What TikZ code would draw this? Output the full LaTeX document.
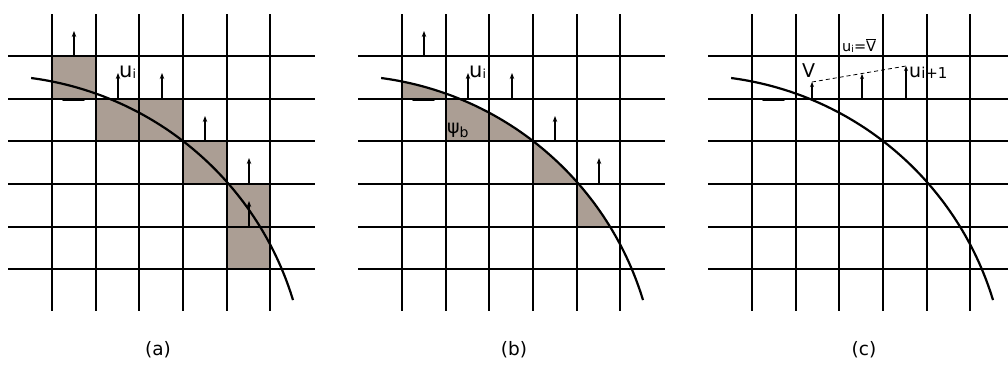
\documentclass[tikz,border=0pt]{standalone}
\usepackage{fontspec}
\setmainfont{DejaVu Sans}
\usetikzlibrary{arrows.meta}
\definecolor{cellfill}{RGB}{171,158,148}
\tikzset{
  gridline/.style={line width=2.8pt, black},
  curveline/.style={line width=2.2pt, black},
  vecarrow/.style={line width=1.4pt, -{Stealth[length=6pt,width=4.5pt]}},
  smallarrow/.style={line width=1.3pt, -{Stealth[length=5pt,width=4pt]}},
  cellshade/.style={fill=cellfill},
  lbl/.style={inner sep=0pt, anchor=base west},
  caption/.style={inner sep=0pt, anchor=center, font=\fontsize{18.5}{18.5}\selectfont},
  bigfont/.style={font=\fontsize{21}{21}\selectfont},
}
\newcommand\mysub[2]{\raisebox{-1pt}{\fontsize{#1}{#1}\selectfont #2}}
\newcommand\gridpanel{%
  \foreach \x in {52,96,139,183,227,270} \draw[gridline] (\x,14) -- (\x,311);
  \foreach \y in {56,99,141,184,227,269} \draw[gridline] (8,\y) -- (315,\y);
  \draw[line width=1.3pt, line cap=round] (63,100.4) -- (84,100.4);
  \draw[curveline] plot[domain=-82.5:-16.9, samples=80, smooth] ({-10.2+316.9*cos(\x)}, {392.2+316.9*sin(\x)});
}
\begin{document}
\begin{tikzpicture}[x=1pt, y=-1pt]
  \useasboundingbox (0,0) rectangle (1008,365);
  \fill[white] (0,0) rectangle (1008,365);

  % ---------- panel (a)
  \begin{scope}
    \fill[cellshade] (52,56) rectangle (96,99);
    \fill[cellshade] (96,99) rectangle (183,141);
    \fill[cellshade] (183,141) rectangle (227,184);
    \fill[cellshade] (227,184) rectangle (270,269);
    \gridpanel
    \coordinate (a1s) at (74,56);   \coordinate (a1e) at (74,31);
    \coordinate (a2s) at (118,99);  \coordinate (a2e) at (118,73);
    \coordinate (a3s) at (162,99);  \coordinate (a3e) at (162,73);
    \coordinate (a4s) at (205,141); \coordinate (a4e) at (205,116);
    \coordinate (a5s) at (249,184); \coordinate (a5e) at (249,158);
    \coordinate (a6s) at (249,227); \coordinate (a6e) at (249,201);
    \foreach \i in {1,...,6} \draw[vecarrow] (a\i s) -- (a\i e);
    \node[lbl, bigfont] (uia) at (119,77) {u\mysub{12.5}{i}};
    \node[caption] (capa) at (158,350) {(a)};
  \end{scope}

  % ---------- panel (b)
  \begin{scope}[xshift=350pt]
    \begin{scope}
      \clip (-10.2,392.2) -- plot[domain=-82.5:-16.9, samples=80, smooth] ({-10.2+316.9*cos(\x)}, {392.2+316.9*sin(\x)}) -- cycle;
      \fill[cellshade] (52,56) rectangle (96,99);
      \fill[cellshade] (96,99) rectangle (183,141);
      \fill[cellshade] (183,141) rectangle (227,184);
      \fill[cellshade] (227,184) rectangle (270,227);
    \end{scope}
    \gridpanel
    \coordinate (b1s) at (74,56);   \coordinate (b1e) at (74,31);
    \coordinate (b2s) at (118,99);  \coordinate (b2e) at (118,73);
    \coordinate (b3s) at (162,99);  \coordinate (b3e) at (162,73);
    \coordinate (b4s) at (205,141); \coordinate (b4e) at (205,116);
    \coordinate (b5s) at (249,184); \coordinate (b5e) at (249,158);
    \foreach \i in {1,...,5} \draw[vecarrow] (b\i s) -- (b\i e);
    \node[lbl, bigfont] (uib) at (119,77) {u\mysub{12.5}{i}};
    \node[lbl, font=\fontsize{19}{19}\selectfont] (psib) at (97,133) {ψ\raisebox{-4pt}{\fontsize{14}{14}\selectfont b}};
    \node[caption] (capb) at (164,350) {(b)};
  \end{scope}

  % ---------- panel (c)
  \begin{scope}[xshift=700pt]
    \gridpanel
    \coordinate (c1s) at (112,99); \coordinate (c1e) at (112,82);
    \coordinate (c2s) at (162,99); \coordinate (c2e) at (162,74);
    \coordinate (c3s) at (206,99); \coordinate (c3e) at (206,66);
    \foreach \i in {1,2,3} \draw[smallarrow] (c\i s) -- (c\i e);
    \draw[line width=0.8pt, dash pattern=on 4pt off 3pt] (c1e) -- (c3e);
    \node[lbl, font=\fontsize{19}{19}\selectfont] (vc) at (102,77) {V};
    \node[lbl, font=\fontsize{19}{19}\selectfont] (uic) at (209,77) {u\mysub{15}{i+1}};
    \node[lbl, font=\fontsize{14.5}{14.5}\selectfont] (ueq) at (142,51) {u\mysub{9.5}{i}=$\overline{\mbox{V}}$};
    \node[caption] (capc) at (164,350) {(c)};
  \end{scope}
\end{tikzpicture}
\end{document}
